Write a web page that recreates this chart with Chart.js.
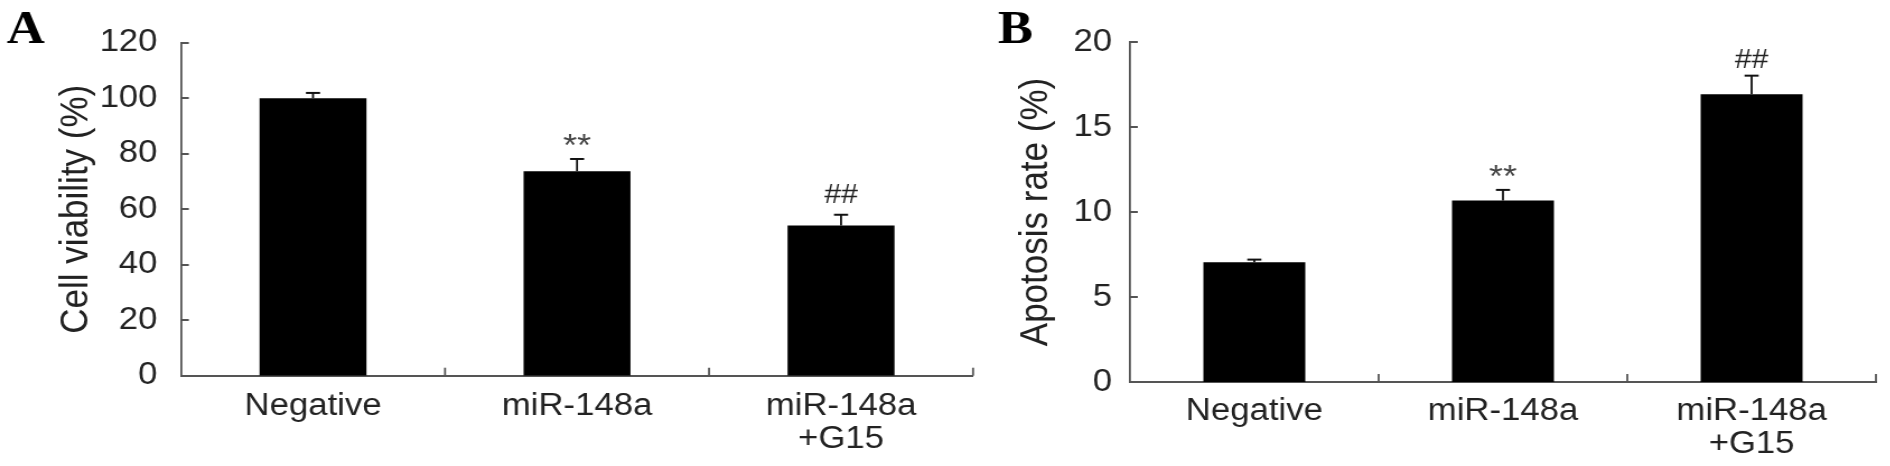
<!DOCTYPE html>
<html>
<head>
<meta charset="utf-8">
<script src="https://cdn.jsdelivr.net/npm/chart.js@4.4.0/dist/chart.umd.min.js"></script>
<style>
  html, body { margin: 0; padding: 0; background: #fff; overflow: hidden; }
  #wrap { position: relative; width: 1890px; height: 466px; overflow: hidden; }
  /* the original figure is stretched sideways, so each panel is drawn narrower and widened */
  canvas { position: absolute; top: 0; transform: scaleX(1.12); transform-origin: 0 0; }
  #chartA { left: 0; }
  #chartB { left: 990px; }
</style>
</head>
<body>
<div id="wrap">
  <canvas id="chartA" width="884" height="466"></canvas>
  <canvas id="chartB" width="804" height="466"></canvas>
</div>
<script>
// data
var groups = ['Negative', 'miR-148a', ['miR-148a', '+G15']];

var viability = [100, 73.7, 54.1];
var viabilityErr = [1.9, 4.4, 3.9];
var viabilityMarks = ['', '**', '##'];
var viabilityTicks = [0, 20, 40, 60, 80, 100, 120];

var apoptosis = [7.05, 10.68, 16.92];
var apoptosisErr = [0.15, 0.62, 1.1];
var apoptosisMarks = ['', '**', '##'];
var apoptosisTicks = [0, 5, 10, 15, 20];

var SANS = '"Liberation Sans", Arial, sans-serif';
var AXIS = '#555555';
var TEXT = '#222222';

// error bars, significance marks, inward tick marks and panel letter
var extras = {
    id: 'extras',
    afterDatasetsDraw: function(chart, args, opts) {
        var ctx = chart.ctx;
        var xs = chart.scales.x;
        var ys = chart.scales.y;
        var meta = chart.getDatasetMeta(0);
        var values = chart.data.datasets[0].data;

        ctx.save();
        ctx.strokeStyle = '#111';
        meta.data.forEach(function(bar, i) {
            var top = ys.getPixelForValue(values[i] + opts.err[i]);
            ctx.lineWidth = 1.8;
            ctx.beginPath();
            ctx.moveTo(bar.x, bar.y);
            ctx.lineTo(bar.x, top);
            ctx.stroke();
            ctx.lineWidth = 2;
            ctx.beginPath();
            ctx.moveTo(bar.x - 6.3, top);
            ctx.lineTo(bar.x + 6.3, top);
            ctx.stroke();

            var mark = opts.marks[i];
            if (mark) {
                ctx.textAlign = 'center';
                ctx.textBaseline = 'alphabetic';
                if (mark === '**') {
                    ctx.fillStyle = '#444';
                    ctx.font = '32px ' + SANS;
                    ctx.fillText(mark, bar.x, top - 3);
                } else {
                    ctx.fillStyle = '#222';
                    ctx.font = '27px ' + SANS;
                    ctx.fillText(mark, bar.x, top - opts.hashGap);
                }
            }
        });

        // ticks pointing into the plot
        ctx.strokeStyle = AXIS;
        ctx.lineWidth = 2;
        ys.ticks.forEach(function(t, i) {
            var py = Math.round(ys.getPixelForTick(i));
            ctx.beginPath();
            ctx.moveTo(xs.left, py);
            ctx.lineTo(xs.left + 7, py);
            ctx.stroke();
        });
        ctx.lineWidth = 1.8;
        var n = chart.data.labels.length;
        for (var k = 1; k <= n; k++) {
            var px = xs.left + k * (xs.right - xs.left) / n;
            ctx.beginPath();
            ctx.moveTo(px, ys.bottom);
            ctx.lineTo(px, ys.bottom - 8);
            ctx.stroke();
        }

        ctx.fillStyle = '#000';
        ctx.font = 'bold 47px "Liberation Serif", "Times New Roman", serif';
        ctx.textAlign = 'left';
        ctx.textBaseline = 'alphabetic';
        ctx.fillText(opts.letter, opts.letterX, 43);
        ctx.restore();
    }
};

function makeChart(canvasId, cfg) {
    return new Chart(document.getElementById(canvasId), {
        type: 'bar',
        data: {
            labels: groups,
            datasets: [{
                data: cfg.values,
                backgroundColor: '#000000',
                borderWidth: 0,
                categoryPercentage: 1,
                barPercentage: cfg.barPct
            }]
        },
        options: {
            responsive: false,
            animation: false,
            layout: {
                padding: { left: 0, right: cfg.padRight, top: cfg.padTop, bottom: 0 }
            },
            scales: {
                x: {
                    grid: { display: false, drawTicks: false },
                    border: { color: AXIS, width: 2 },
                    ticks: {
                        color: TEXT,
                        padding: cfg.xPad,
                        maxRotation: 0,
                        autoSkip: false,
                        font: { family: SANS, size: 31, lineHeight: '33px' }
                    },
                    afterFit: function(scale) { scale.height = cfg.xHeight; }
                },
                y: {
                    min: cfg.ticks[0],
                    max: cfg.ticks[cfg.ticks.length - 1],
                    grid: { display: false, drawTicks: false },
                    border: { color: AXIS, width: 1.8 },
                    ticks: {
                        stepSize: cfg.ticks[1] - cfg.ticks[0],
                        color: TEXT,
                        padding: cfg.yPad,
                        font: { family: SANS, size: 31 }
                    },
                    title: {
                        display: true,
                        text: cfg.title,
                        color: TEXT,
                        font: { family: SANS, size: 35, lineHeight: 1.2 },
                        padding: { top: cfg.titlePad, bottom: 0 }
                    },
                    afterFit: function(scale) { scale.width = cfg.yWidth; }
                }
            },
            plugins: {
                legend: { display: false },
                tooltip: { enabled: false },
                extras: {
                    err: cfg.err,
                    marks: cfg.marks,
                    letter: cfg.letter,
                    letterX: cfg.letterX,
                    hashGap: cfg.hashGap
                }
            }
        },
        plugins: [extras]
    });
}

makeChart('chartA', {
    values: viability,
    err: viabilityErr,
    marks: viabilityMarks,
    ticks: viabilityTicks,
    title: 'Cell viability (%)',
    letter: 'A',
    letterX: 6,
    barPct: 0.405,
    yWidth: 161.6,
    yPad: 21,
    titlePad: 47,
    padTop: 42.7,
    padRight: 15.2,
    xHeight: 90.3,
    xPad: 14.4,
    hashGap: 12
});

makeChart('chartB', {
    values: apoptosis,
    err: apoptosisErr,
    marks: apoptosisMarks,
    ticks: apoptosisTicks,
    title: 'Apotosis rate (%)',
    letter: 'B',
    letterX: 7,
    barPct: 0.41,
    yWidth: 125,
    yPad: 16,
    titlePad: 20,
    padTop: 42,
    padRight: 13,
    xHeight: 84,
    xPad: 12.8,
    hashGap: 8
});
</script>
</body>
</html>
